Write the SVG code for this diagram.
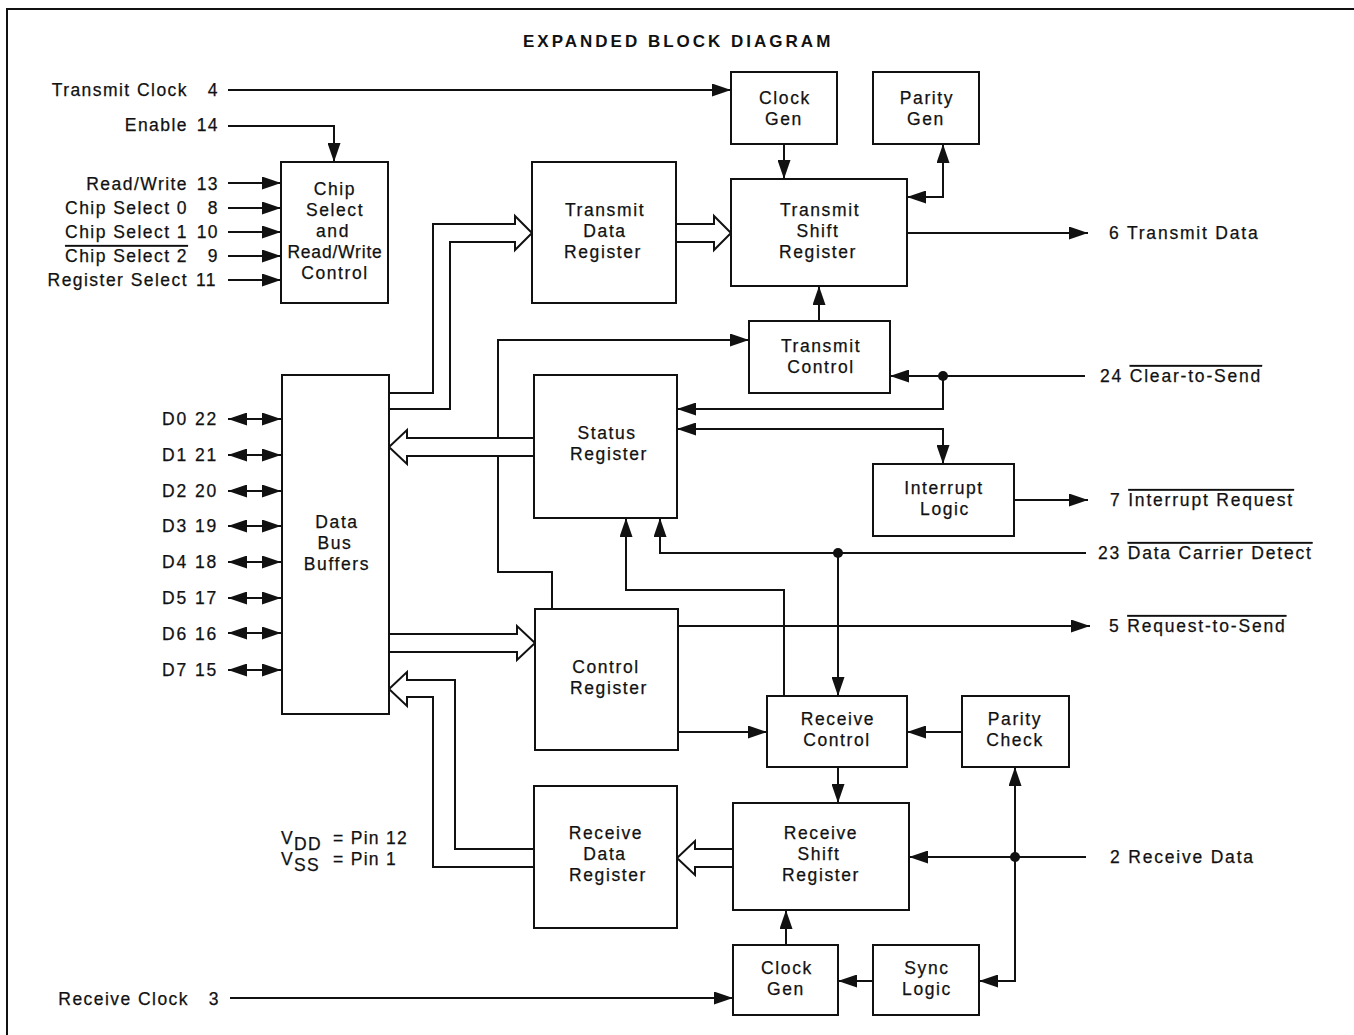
<svg xmlns="http://www.w3.org/2000/svg" width="1354" height="1035" viewBox="0 0 1354 1035">
<style>
.b{fill:#fff;stroke:#111;stroke-width:2}
.w{fill:none;stroke:#111;stroke-width:2}
.a{marker-end:url(#ah)}
.aa{marker-start:url(#ah);marker-end:url(#ah)}
text{font-family:"Liberation Sans",Arial,Helvetica,sans-serif;font-size:17.5px;fill:#111;stroke:#111;stroke-width:0.25px}
.t{text-anchor:middle;letter-spacing:1.6px}
.l{text-anchor:end;letter-spacing:1.45px}
.r{text-anchor:start;letter-spacing:1.8px}
.d{text-anchor:start;letter-spacing:1.9px}
.ov{text-decoration:overline}
</style>
<defs>
<marker id="ah" viewBox="0 0 19 13" refX="19" refY="6.5" markerWidth="19" markerHeight="13" orient="auto-start-reverse" markerUnits="userSpaceOnUse">
<path d="M0,0 L19,6.5 L0,13 z" fill="#111"/>
</marker>
</defs>
<rect width="1354" height="1035" fill="#fff"/>
<path d="M7,1035 V9 H1354" class="w"/>
<text x="523" y="47" style="font-size:17px;font-weight:bold;letter-spacing:3px;stroke-width:0">EXPANDED BLOCK DIAGRAM</text>

<g id="connectors">
<path class="w a" d="M228,90 H731"/>
<path class="w a" d="M228,126 H334 V162"/>
<path class="w a" d="M228,183 H281"/>
<path class="w a" d="M228,208 H281"/>
<path class="w a" d="M228,232 H281"/>
<path class="w a" d="M228,256 H281"/>
<path class="w a" d="M228,280 H281"/>
<path class="w aa" d="M228,419 H281"/>
<path class="w aa" d="M228,455 H281"/>
<path class="w aa" d="M228,491 H281"/>
<path class="w aa" d="M228,526 H281"/>
<path class="w aa" d="M228,562 H281"/>
<path class="w aa" d="M228,598 H281"/>
<path class="w aa" d="M228,633 H281"/>
<path class="w aa" d="M228,670 H281"/>
<path class="w a" d="M784,144 V179"/>
<path class="w aa" d="M943,144 V197 H907"/>
<path class="w a" d="M907,233 H1088"/>
<path class="w a" d="M819,321 V286"/>
<path class="w a" d="M1085,376 H890"/>
<path class="w a" d="M943,376 V409 H677"/>
<path class="w aa" d="M677,429 H943 V464"/>
<path class="w a" d="M1014,500 H1088"/>
<path class="w a" d="M1086,553 H660 V518"/>
<path class="w a" d="M838,553 V696"/>
<path class="w a" d="M784,696 V590 H626 V518"/>
<path class="w a" d="M678,626 H1090"/>
<path class="w a" d="M678,732 H767"/>
<path class="w a" d="M962,732 H907"/>
<path class="w a" d="M838,767 V803"/>
<path class="w a" d="M1086,857 H909"/>
<path class="w a" d="M1015,857 V767"/>
<path class="w a" d="M1015,857 V981 H979"/>
<path class="w a" d="M873,981 H838"/>
<path class="w a" d="M786,945 V910"/>
<path class="w a" d="M230,998 H733"/>
<path class="w a" d="M498,438 V340 H749"/>
<path class="w" d="M498,456 V572 H552 V609"/>
<path class="w" d="M389,393 H433 V224 H515 V216 L532,233 L515,250 V242 H450 V409 H389"/>
<path class="w" d="M676,224 H714 V216 L731,233 L714,250 V242 H676"/>
<path class="w" d="M534,438 H407 V430 L389,447 L407,464 V456 H534"/>
<path class="w" d="M389,634 H517 V626 L535,643 L517,660 V652 H389"/>
<path class="w" d="M534,849 H455 V680 H407 V672 L389,689 L407,706 V697 H433 V867 H534"/>
<path class="w" d="M733,849 H695 V841 L677,858 L695,875 V867 H733"/>
<circle cx="943" cy="376" r="5" fill="#111"/>
<circle cx="838" cy="553" r="5" fill="#111"/>
<circle cx="1015" cy="857" r="5" fill="#111"/>
</g>

<g id="chip-select">
<rect class="b" x="281" y="162" width="107" height="141"/>
<text class="t" x="335" y="195">Chip</text>
<text class="t" x="335" y="216">Select</text>
<text class="t" x="333" y="237">and</text>
<text class="t" x="335" y="258" style="letter-spacing:0.8px">Read/Write</text>
<text class="t" x="335" y="279">Control</text>
</g>
<g id="tx-clock-gen">
<rect class="b" x="731" y="72" width="106" height="72"/>
<text class="t" x="785" y="104">Clock</text>
<text class="t" x="784" y="125">Gen</text>
</g>
<g id="parity-gen">
<rect class="b" x="873" y="72" width="106" height="72"/>
<text class="t" x="927" y="104">Parity</text>
<text class="t" x="926" y="125">Gen</text>
</g>
<g id="transmit-data-register">
<rect class="b" x="532" y="162" width="144" height="141"/>
<text class="t" x="605" y="216">Transmit</text>
<text class="t" x="605" y="237">Data</text>
<text class="t" x="603" y="258">Register</text>
</g>
<g id="transmit-shift-register">
<rect class="b" x="731" y="179" width="176" height="107"/>
<text class="t" x="820" y="216">Transmit</text>
<text class="t" x="818" y="237">Shift</text>
<text class="t" x="818" y="258">Register</text>
</g>
<g id="transmit-control">
<rect class="b" x="749" y="321" width="141" height="72"/>
<text class="t" x="821" y="352">Transmit</text>
<text class="t" x="821" y="373">Control</text>
</g>
<g id="status-register">
<rect class="b" x="534" y="375" width="143" height="143"/>
<text class="t" x="607" y="439">Status</text>
<text class="t" x="609" y="460">Register</text>
</g>
<g id="interrupt-logic">
<rect class="b" x="873" y="464" width="141" height="72"/>
<text class="t" x="944" y="494">Interrupt</text>
<text class="t" x="945" y="515">Logic</text>
</g>
<g id="data-bus-buffers">
<rect class="b" x="282" y="375" width="107" height="339"/>
<text class="t" x="337" y="528">Data</text>
<text class="t" x="335" y="549">Bus</text>
<text class="t" x="337" y="570">Buffers</text>
</g>
<g id="control-register">
<rect class="b" x="535" y="609" width="143" height="141"/>
<text class="t" x="606" y="673">Control</text>
<text class="t" x="609" y="694">Register</text>
</g>
<g id="receive-control">
<rect class="b" x="767" y="696" width="140" height="71"/>
<text class="t" x="838" y="725">Receive</text>
<text class="t" x="837" y="746">Control</text>
</g>
<g id="parity-check">
<rect class="b" x="962" y="696" width="107" height="71"/>
<text class="t" x="1015" y="725">Parity</text>
<text class="t" x="1015" y="746">Check</text>
</g>
<g id="receive-data-register">
<rect class="b" x="534" y="786" width="143" height="142"/>
<text class="t" x="606" y="839">Receive</text>
<text class="t" x="605" y="860">Data</text>
<text class="t" x="608" y="881">Register</text>
</g>
<g id="receive-shift-register">
<rect class="b" x="733" y="803" width="176" height="107"/>
<text class="t" x="821" y="839">Receive</text>
<text class="t" x="819" y="860">Shift</text>
<text class="t" x="821" y="881">Register</text>
</g>
<g id="rx-clock-gen">
<rect class="b" x="733" y="945" width="105" height="70"/>
<text class="t" x="787" y="974">Clock</text>
<text class="t" x="786" y="995">Gen</text>
</g>
<g id="sync-logic">
<rect class="b" x="873" y="945" width="106" height="70"/>
<text class="t" x="927" y="974">Sync</text>
<text class="t" x="927" y="995">Logic</text>
</g>

<g id="pin-labels">
<text class="l" x="188" y="96">Transmit Clock</text><text class="l" x="219" y="96">4</text>
<text class="l" x="188" y="131">Enable</text><text class="l" x="219" y="131">14</text>
<text class="l" x="188" y="190">Read/Write</text><text class="l" x="219" y="190">13</text>
<text class="l" x="188" y="214">Chip Select 0</text><text class="l" x="219" y="214">8</text>
<text class="l" x="188" y="238">Chip Select 1</text><text class="l" x="219" y="238">10</text>
<text class="l" x="188" y="262"><tspan class="ov">Chip Select 2</tspan></text><text class="l" x="219" y="262">9</text>
<text class="l" x="188" y="286">Register Select</text><text class="l" x="217" y="286">11</text>
<text class="d" x="162" y="425">D0 22</text>
<text class="d" x="162" y="461">D1 21</text>
<text class="d" x="162" y="497">D2 20</text>
<text class="d" x="162" y="532">D3 19</text>
<text class="d" x="162" y="568">D4 18</text>
<text class="d" x="162" y="604">D5 17</text>
<text class="d" x="162" y="640">D6 16</text>
<text class="d" x="162" y="676">D7 15</text>
<text class="l" x="189" y="1005">Receive Clock</text><text class="l" x="220" y="1005">3</text>
<text class="r" x="1109" y="239">6 Transmit Data</text>
<text class="r" x="1100" y="382">24 <tspan class="ov">Clear-to-Send</tspan></text>
<text class="r" x="1110" y="506">7 <tspan class="ov">Interrupt Request</tspan></text>
<text class="r" x="1098" y="559">23 <tspan class="ov">Data Carrier Detect</tspan></text>
<text class="r" x="1109" y="632">5 <tspan class="ov">Request-to-Send</tspan></text>
<text class="r" x="1110" y="863">2 Receive Data</text>
<text class="d" x="281" y="844" style="letter-spacing:1.3px">V<tspan dy="6">DD</tspan><tspan x="333" dy="-6">= Pin 12</tspan></text>
<text class="d" x="281" y="865" style="letter-spacing:1.3px">V<tspan dy="6">SS</tspan><tspan x="333" dy="-6">= Pin 1</tspan></text>
</g>
</svg>
